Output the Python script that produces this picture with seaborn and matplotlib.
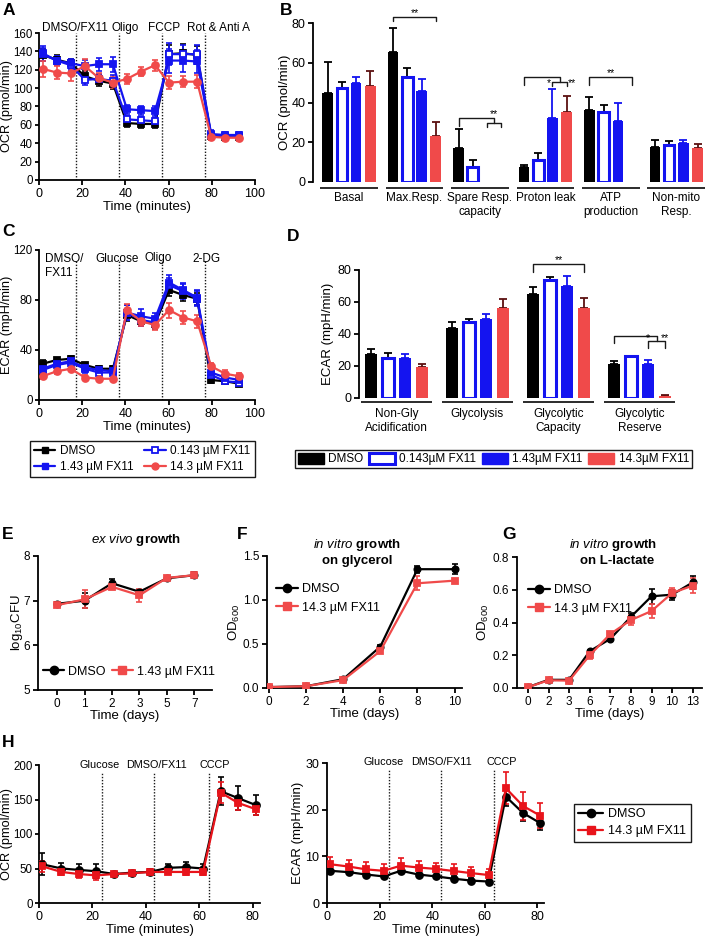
import matplotlib
matplotlib.use("Agg")
import matplotlib.pyplot as plt
import numpy as np
import pandas as pd
import seaborn as sns
from matplotlib.lines import Line2D
from matplotlib.patches import Patch

# ---------------- data ----------------
treats = ["DMSO", "0.143 µM FX11", "1.43 µM FX11", "14.3 µM FX11"]

# Panel A : OCR time course
time_A = [1.7, 8.2, 14.7, 21.2, 27.7, 34.2, 40.7, 47.2, 53.7, 60.2, 66.7, 73.2, 79.7, 86.2, 92.7]
A_dmso = [136, 131, 127, 113, 108, 105, 62, 61, 61, 137, 138, 136, 48, 47, 47]
A_f0143 = [137, 130, 125, 109, 110, 108, 66, 65, 64, 137, 137, 137, 50, 49, 49]
A_f143 = [138, 130, 127, 124, 126, 126, 77, 76, 75, 130, 130, 129, 49, 48, 48]
A_f143h = [121, 117, 116, 124, 111, 106, 110, 118, 125, 106, 107, 107, 47, 46, 46]
A_err_dmso = [7, 5, 5, 6, 6, 6, 4, 4, 4, 10, 10, 10, 4, 3, 3]
A_err_f0143 = [7, 5, 5, 6, 5, 6, 4, 4, 4, 12, 10, 10, 4, 3, 3]
A_err_f143 = [8, 5, 5, 7, 7, 8, 5, 5, 5, 13, 12, 13, 4, 3, 3]
A_err_f143h = [9, 7, 8, 8, 6, 6, 5, 5, 6, 7, 6, 7, 4, 4, 4]
inject_A = [17, 37, 57, 77]
inject_labels_A = ["DMSO/FX11", "Oligo", "FCCP", "Rot & Anti A"]

# Panel B : OCR parameters
groups_B = ["Basal", "Max.Resp.", "Spare Resp.\ncapacity", "Proton leak", "ATP\nproduction", "Non-mito\nResp."]
B_dmso = [45, 65.5, 17, 7.5, 36, 17.5]
B_f0143 = [47.5, 53, 7.5, 11, 35, 18.5]
B_f143 = [50, 46, 0, 32, 30.5, 19.5]
B_f143h = [48.5, 23, 0, 35, 0, 17]
B_err_dmso = [15.5, 12, 9.5, 1, 7, 3.5]
B_err_f0143 = [3, 4.5, 3.5, 3.5, 3.5, 2]
B_err_f143 = [3, 6, 0, 15, 9, 1.5]
B_err_f143h = [7.5, 7, 0, 8.5, 0, 2]

# Panel C : ECAR time course
time_C = time_A
C_dmso = [29, 32, 33, 28, 25, 25, 68, 63, 61, 88, 84, 81, 16, 15, 13]
C_f0143 = [24, 28, 30, 25, 22, 22, 70, 64, 62, 92, 87, 81, 20, 15, 14]
C_f143 = [25, 29, 31, 26, 24, 23, 70, 67, 65, 94, 88, 82, 22, 18, 16]
C_f143h = [19, 23, 25, 18, 17, 17, 72, 63, 60, 72, 66, 63, 27, 21, 19]
C_err_dmso = [3, 2, 2, 2, 2, 2, 5, 4, 4, 5, 5, 5, 2, 2, 2]
C_err_f0143 = [3, 3, 3, 3, 3, 3, 6, 5, 4, 6, 6, 6, 2, 2, 2]
C_err_f143 = [3, 3, 3, 3, 3, 3, 6, 6, 5, 6, 6, 6, 3, 4, 3]
C_err_f143h = [2, 2, 2, 2, 2, 2, 5, 4, 4, 6, 5, 5, 3, 3, 3]
inject_C = [17, 37, 57, 77]

# Panel D : glycolysis parameters
groups_D = ["Non-Gly\nAcidification", "Glycolysis", "Glycolytic\nCapacity", "Glycolytic\nReserve"]
D_dmso = [27.5, 43.5, 65, 21.5]
D_f0143 = [25, 47.5, 74, 26]
D_f143 = [25, 49.5, 70, 21]
D_f143h = [19.5, 56, 56.5, 1]
D_err_dmso = [3, 4, 4.5, 1.5]
D_err_f0143 = [3, 2, 1.5, 0.5]
D_err_f143 = [2.5, 3, 6, 3]
D_err_f143h = [1.5, 6, 6, 0.8]

# Panel E : ex vivo growth
days_E = ["0", "1", "2", "3", "5", "7"]
E_dmso = [6.93, 7.00, 7.39, 7.20, 7.50, 7.57]
E_dmso_err = [0.03, 0.17, 0.09, 0.05, 0.04, 0.07]
E_fx = [6.90, 7.03, 7.31, 7.12, 7.51, 7.57]
E_fx_err = [0.03, 0.2, 0.05, 0.15, 0.05, 0.04]

# Panel F : in vitro growth on glycerol
days_F = [0, 2, 4, 6, 8, 10]
F_dmso = [0.01, 0.02, 0.10, 0.47, 1.35, 1.35]
F_dmso_err = [0.005, 0.005, 0.01, 0.02, 0.04, 0.06]
F_fx = [0.01, 0.02, 0.09, 0.42, 1.19, 1.22]
F_fx_err = [0.005, 0.005, 0.01, 0.02, 0.08, 0.02]

# Panel G : in vitro growth on L-lactate
days_G = ["0", "2", "3", "6", "7", "8", "9", "10", "13"]
G_dmso = [0.005, 0.05, 0.05, 0.225, 0.30, 0.435, 0.56, 0.57, 0.645]
G_dmso_err = [0.005, 0.005, 0.005, 0.01, 0.01, 0.025, 0.045, 0.03, 0.04]
G_fx = [0.005, 0.047, 0.045, 0.20, 0.33, 0.415, 0.47, 0.58, 0.625]
G_fx_err = [0.005, 0.005, 0.005, 0.02, 0.015, 0.03, 0.04, 0.03, 0.045]

# Panel H : OCR / ECAR
time_H = [1.3, 8.4, 14.9, 21.5, 28.1, 34.8, 41.4, 48.3, 54.9, 61.4, 68.0, 74.5, 81.1]
H_ocr_dmso = [56, 50, 48, 46, 42, 44, 45, 51, 52, 50, 162, 152, 142]
H_ocr_dmso_err = [16, 8, 9, 10, 3, 3, 4, 6, 7, 6, 20, 17, 14]
H_ocr_fx = [53, 45, 42, 40, 42, 43, 45, 45, 45, 45, 160, 145, 136]
H_ocr_fx_err = [8, 5, 6, 6, 3, 3, 3, 3, 4, 4, 15, 10, 8]
H_ecar_dmso = [6.9, 6.6, 6.1, 5.7, 6.9, 6.1, 5.7, 5.2, 4.8, 4.6, 22.8, 19.3, 17.1]
H_ecar_dmso_err = [0.3, 0.3, 0.3, 0.3, 0.3, 0.3, 0.3, 0.5, 0.5, 0.3, 2.0, 1.8, 1.5]
H_ecar_fx = [8.3, 7.8, 7.2, 6.9, 8.0, 7.6, 7.3, 6.85, 6.4, 6.0, 24.6, 20.8, 18.7]
H_ecar_fx_err = [1.6, 1.4, 1.5, 1.4, 1.6, 1.4, 1.3, 1.5, 1.4, 1.3, 3.4, 3.0, 2.7]
inject_H = [23.5, 43.2, 63.5]
inject_labels_H = ["Glucose", "DMSO/FX11", "CCCP"]

# ---------------- style ----------------
sns.set_theme(style="ticks")
plt.rcParams.update({
    'font.family': ['Liberation Sans', 'DejaVu Sans'],
    'mathtext.fontset': 'custom',
    'mathtext.rm': 'Liberation Sans',
    'mathtext.it': 'Liberation Sans:italic',
    'mathtext.bf': 'Liberation Sans:bold',
    'axes.linewidth': 1.3,
    'xtick.major.width': 1.3, 'ytick.major.width': 1.3,
    'xtick.major.size': 3.5, 'ytick.major.size': 3.5,
    'xtick.labelsize': 9, 'ytick.labelsize': 9,
    'axes.labelsize': 9.5,
    'xtick.major.pad': 2, 'ytick.major.pad': 2,
    'axes.edgecolor': 'black', 'xtick.color': 'black', 'ytick.color': 'black',
    'text.color': 'black', 'axes.labelcolor': 'black',
})

W, H = 711, 944
fig = plt.figure(figsize=(W / 100, H / 100), dpi=100)

BLACK = '#000000'
BLUE = '#1414F0'
RED = '#F04A4A'
RED_H = '#E8141B'
DKRED = '#5c1010'


def add_ax(x0, y0, x1, y1):
    ax = fig.add_axes([x0 / W, 1 - y1 / H, (x1 - x0) / W, (y1 - y0) / H])
    sns.despine(ax=ax)
    return ax


def ylab(ax, text, xfrac, size=9.5):
    ax.set_ylabel(text, fontsize=size)
    ax.yaxis.set_label_coords(xfrac, 0.5)


def tight_y(ax):
    ax.tick_params(axis='y', labelsize=8.3, pad=1.5, length=3)


def series(ax, x, y, err, color, marker, mfc=None, ms=5, lw=1.6, cap=2.5):
    sns.lineplot(x=x, y=y, ax=ax, color=color, marker=marker, markersize=ms,
                 markerfacecolor=mfc if mfc else color, markeredgecolor=color,
                 markeredgewidth=1.3, linewidth=lw, errorbar=None, zorder=3)
    ax.errorbar(x, y, yerr=err, fmt='none', ecolor=color, elinewidth=1.2,
                capsize=cap, capthick=1.2, zorder=2.9)


def letter(x, y, s):
    fig.text(x / W, 1 - y / H, s, fontsize=12.5, fontweight='bold', va='top', ha='left')


def long_df(groups, vals_list):
    rows = []
    for t, vals in zip(treats, vals_list):
        for g, v in zip(groups, vals):
            rows.append((g, t, v))
    return pd.DataFrame(rows, columns=['group', 'treat', 'value'])


def bars(ax, groups, vals_list, errs_list, width, gap):
    df = long_df(groups, vals_list)
    sns.barplot(data=df, x='group', y='value', hue='treat', order=groups, hue_order=treats,
                palette=[BLACK, BLUE, BLUE, RED], saturation=1, width=width, gap=gap,
                errorbar=None, legend=False, ax=ax, zorder=2, linewidth=0)
    for bar in ax.containers[1]:
        bar.set_facecolor('white')
        bar.set_edgecolor(BLUE)
        bar.set_linewidth(2.2)
    for cont, e, c in zip(ax.containers, errs_list, [BLACK, BLACK, BLUE, DKRED]):
        xs = np.array([b.get_x() + b.get_width() / 2 for b in cont])
        hs = np.array([b.get_height() for b in cont])
        e = np.array(e, float)
        m = e > 0
        ax.errorbar(xs[m], hs[m], yerr=[np.zeros(m.sum()), e[m]], fmt='none', ecolor=c,
                    elinewidth=1.3, capsize=3, capthick=1.3, zorder=1.9)
    ax.spines['bottom'].set_visible(False)
    ax.tick_params(axis='x', length=0, pad=7, labelsize=8.5)
    ax.set_xlabel('')
    for i in range(len(groups)):
        ax.plot([i - 0.44, i + 0.44], [-0.035, -0.035], transform=ax.get_xaxis_transform(),
                color='k', lw=1.3, clip_on=False, solid_capstyle='butt')


def xc(ax, hue_i, grp_i):
    b = ax.containers[hue_i][grp_i]
    return b.get_x() + b.get_width() / 2


def bracket(ax, x1, x2, y, d1, d2):
    ax.plot([x1, x1, x2, x2], [y - d1, y, y, y - d2], color='k', lw=1, clip_on=False)


def star(ax, x, y, s, ha='center', va='bottom'):
    ax.text(x, y, s, ha=ha, va=va, fontsize=7.5, clip_on=False)


# ---------------- Panel A ----------------
axA = add_ax(39, 33, 255, 180)
for y, e, c, m, mfc in [(A_dmso, A_err_dmso, BLACK, 's', BLACK),
                        (A_f0143, A_err_f0143, BLUE, 's', 'white'),
                        (A_f143, A_err_f143, BLUE, 's', BLUE),
                        (A_f143h, A_err_f143h, RED, 'o', RED)]:
    series(axA, time_A, y, e, c, m, mfc)
axA.set_xlim(0, 100)
axA.set_ylim(0, 160)
axA.set_xticks(range(0, 101, 20))
axA.set_yticks(range(0, 161, 20))
tight_y(axA)
axA.set_xlabel('Time (minutes)', labelpad=1)
ylab(axA, 'OCR (pmol/min)', -0.12, 9.2)
for x in inject_A:
    axA.vlines(x, 0, 160, colors='k', linestyles=(0, (1, 1.2)), lw=1, zorder=1)
for x, t in zip([16.5, 40, 58, 83], inject_labels_A):
    axA.text(x, 162, t, ha='center', va='baseline', fontsize=8.5, clip_on=False)
letter(3, 3, 'A')

# ---------------- Panel B ----------------
axB = add_ax(313, 23, 709, 182)
bars(axB, groups_B, [B_dmso, B_f0143, B_f143, B_f143h],
     [B_err_dmso, B_err_f0143, B_err_f143, B_err_f143h], 0.87, 0.25)
axB.set_xlim(-0.55, 5.5)
axB.set_ylim(0, 80)
axB.set_yticks(range(0, 81, 20))
ylab(axB, 'OCR (pmol/min)', -0.056)
# significance
bracket(axB, xc(axB, 0, 1), xc(axB, 3, 1), 83, 1.8, 1.8)
star(axB, (xc(axB, 0, 1) + xc(axB, 3, 1)) / 2, 82.5, '**')
mid = (xc(axB, 2, 2) + xc(axB, 3, 2)) / 2
bracket(axB, xc(axB, 0, 2), mid, 32, 4, 2.2)
bracket(axB, xc(axB, 2, 2), xc(axB, 3, 2), 29.8, 2, 2)
star(axB, mid, 31.5, '**')
mid = (xc(axB, 2, 3) + xc(axB, 3, 3)) / 2
bracket(axB, xc(axB, 0, 3), mid, 52.7, 4, 2.2)
bracket(axB, xc(axB, 2, 3), xc(axB, 3, 3), 50.5, 2.2, 2.2)
star(axB, xc(axB, 2, 3) - 0.02, 47.5, '*', ha='right')
star(axB, xc(axB, 3, 3) + 0.02, 47.5, '**', ha='left')
bracket(axB, xc(axB, 0, 4), xc(axB, 3, 4), 52.7, 4, 4)
star(axB, (xc(axB, 0, 4) + xc(axB, 3, 4)) / 2, 52.3, '**')
letter(280, 3, 'B')

# ---------------- Panel C ----------------
axC = add_ax(39, 250, 255, 400)
for y, e, c, m, mfc in [(C_dmso, C_err_dmso, BLACK, 's', BLACK),
                        (C_f0143, C_err_f0143, BLUE, 's', 'white'),
                        (C_f143, C_err_f143, BLUE, 's', BLUE),
                        (C_f143h, C_err_f143h, RED, 'o', RED)]:
    series(axC, time_C, y, e, c, m, mfc)
axC.set_xlim(0, 100)
axC.set_ylim(0, 120)
axC.set_xticks(range(0, 101, 20))
axC.set_yticks(range(0, 121, 40))
tight_y(axC)
axC.set_xlabel('Time (minutes)', labelpad=1)
ylab(axC, 'ECAR (mpH/min)', -0.12, 9.2)
for x in inject_C:
    axC.vlines(x, 0, 112, colors='k', linestyles=(0, (1, 1.2)), lw=1, zorder=1)
axC.text(3, 118, 'DMSO/\nFX11', ha='left', va='top', fontsize=8.5, linespacing=1.3)
axC.text(36, 118, 'Glucose', ha='center', va='top', fontsize=8.5)
axC.text(55, 118, 'Oligo', ha='center', va='top', fontsize=8.5)
axC.text(77.5, 118, '2-DG', ha='center', va='top', fontsize=8.5)
letter(2, 224, 'C')

hC = [Line2D([], [], color=BLACK, marker='s', ms=5, lw=1.6),
      Line2D([], [], color=BLUE, marker='s', ms=5, lw=1.6, markerfacecolor='white', markeredgewidth=1.3),
      Line2D([], [], color=BLUE, marker='s', ms=5, lw=1.6),
      Line2D([], [], color=RED, marker='o', ms=5, lw=1.6)]
order = [0, 2, 1, 3]
legC = fig.legend(
    handles=[hC[i] for i in order], labels=[treats[i] for i in order], ncol=2,
    loc='upper left', bbox_to_anchor=(30 / W, 1 - 441 / H), borderaxespad=0,
    frameon=True, fancybox=False, edgecolor='k', framealpha=1, fontsize=8.5,
    handlelength=1.8, columnspacing=0.9, borderpad=0.35, labelspacing=0.35, handletextpad=0.4)
legC.get_frame().set_linewidth(1.0)

# ---------------- Panel D ----------------
axD = add_ax(359, 270, 676, 398)
bars(axD, groups_D, [D_dmso, D_f0143, D_f143, D_f143h],
     [D_err_dmso, D_err_f0143, D_err_f143, D_err_f143h], 0.84, 0.29)
axD.set_xlim(-0.46, 3.45)
axD.set_ylim(0, 80)
axD.set_yticks(range(0, 81, 20))
ylab(axD, 'ECAR (mpH/min)', -0.079)
bracket(axD, xc(axD, 0, 2), xc(axD, 3, 2), 83.5, 4.5, 4.5)
star(axD, (xc(axD, 0, 2) + xc(axD, 3, 2)) / 2, 83, '**')
mid = (xc(axD, 2, 3) + xc(axD, 3, 3)) / 2
bracket(axD, xc(axD, 0, 3), mid, 38.8, 4.5, 3.3)
bracket(axD, xc(axD, 2, 3), xc(axD, 3, 3), 35.5, 4.5, 4.5)
star(axD, xc(axD, 2, 3), 34.5, '*')
star(axD, xc(axD, 3, 3), 34.5, '**')
letter(287, 229, 'D')

legD = fig.legend(
    handles=[Patch(facecolor=BLACK, edgecolor=BLACK),
             Patch(facecolor='white', edgecolor=BLUE, linewidth=2.2),
             Patch(facecolor=BLUE, edgecolor=BLUE),
             Patch(facecolor=RED, edgecolor=RED)],
    labels=["DMSO", "0.143µM FX11", "1.43µM FX11", "14.3µM FX11"], ncol=4,
    loc='upper left', bbox_to_anchor=(295 / W, 1 - 450 / H), borderaxespad=0,
    frameon=True, fancybox=False, edgecolor='k', framealpha=1, fontsize=8.5,
    handlelength=2.2, handleheight=1.0, columnspacing=0.5, borderpad=0.25, handletextpad=0.35)
legD.get_frame().set_linewidth(1.0)

# ---------------- Panel E ----------------
axE = add_ax(38, 556, 212, 690)
xE = list(range(len(days_E)))
series(axE, xE, E_dmso, E_dmso_err, BLACK, 'o', ms=4.5, cap=2)
series(axE, xE, E_fx, E_fx_err, RED, 's', ms=4.5, cap=2)
axE.set_xticks(xE)
axE.set_xticklabels(days_E)
axE.set_xlim(-0.7, 5.65)
axE.set_ylim(5, 8)
axE.set_yticks([5, 6, 7, 8])
axE.tick_params(labelsize=8.5)
axE.set_xlabel('Time (days)', labelpad=0)
ylab(axE, 'log$_{10}$CFU', -0.075)
fig.text(136 / W, 1 - 540 / H, r'$\it{ex\ vivo}$ $\bf{growth}$', ha='center', va='center', fontsize=9.5)
axE.legend(handles=[Line2D([], [], color=BLACK, marker='o', ms=6, lw=1.6),
                    Line2D([], [], color=RED, marker='s', ms=6, lw=1.6)],
           labels=["DMSO", "1.43 µM FX11"], ncol=2, loc='upper left',
           bbox_to_anchor=(0.0, 0.22), frameon=False, fontsize=9,
           handlelength=1.7, columnspacing=0.5, handletextpad=0.3, borderaxespad=0)
letter(2, 527, 'E')

# ---------------- Panel F ----------------
axF = add_ax(267, 556, 462, 688)
series(axF, days_F, F_dmso, F_dmso_err, BLACK, 'o', ms=4.5, cap=2)
series(axF, days_F, F_fx, F_fx_err, RED, 's', ms=4.5, cap=2)
axF.set_xlim(-0.1, 10.4)
axF.set_ylim(0, 1.5)
axF.set_xticks(days_F)
axF.set_yticks([0, 0.5, 1.0, 1.5])
axF.set_yticklabels(['0.0', '0.5', '1.0', '1.5'])
axF.tick_params(labelsize=8.5)
axF.set_xlabel('Time (days)', labelpad=0)
ylab(axF, 'OD$_{600}$', -0.13)
fig.text(357 / W, 1 - 545 / H, r'$\it{in\ vitro}$ $\bf{growth}$', ha='center', va='center', fontsize=9.5)
fig.text(357 / W, 1 - 561 / H, 'on glycerol', ha='center', va='center', fontsize=9.5, fontweight='bold')
axF.legend(handles=[Line2D([], [], color=BLACK, marker='o', ms=6, lw=1.6),
                    Line2D([], [], color=RED, marker='s', ms=6, lw=1.6)],
           labels=["DMSO", "14.3 µM FX11"], loc='upper left',
           bbox_to_anchor=(0.02, 0.83), frameon=False, fontsize=9,
           handlelength=1.8, handletextpad=0.3, labelspacing=0.5, borderaxespad=0)
letter(237, 527, 'F')

# ---------------- Panel G ----------------
axG = add_ax(517, 557, 702, 688)
xG = list(range(len(days_G)))
series(axG, xG, G_dmso, G_dmso_err, BLACK, 'o', ms=4.5, cap=2)
series(axG, xG, G_fx, G_fx_err, RED, 's', ms=4.5, cap=2)
axG.set_xticks(xG)
axG.set_xticklabels(days_G)
axG.set_xlim(-0.53, 8.45)
axG.set_ylim(0, 0.8)
axG.set_yticks([0, 0.2, 0.4, 0.6, 0.8])
axG.set_yticklabels(['0.0', '0.2', '0.4', '0.6', '0.8'])
axG.tick_params(labelsize=8.5)
axG.set_xlabel('Time (days)', labelpad=0)
ylab(axG, 'OD$_{600}$', -0.14)
fig.text(613 / W, 1 - 545 / H, r'$\it{in\ vitro}$ $\bf{growth}$', ha='center', va='center', fontsize=9.5)
fig.text(617 / W, 1 - 561 / H, 'on L-lactate', ha='center', va='center', fontsize=9.5, fontweight='bold')
axG.legend(handles=[Line2D([], [], color=BLACK, marker='o', ms=6, lw=1.6),
                    Line2D([], [], color=RED, marker='s', ms=6, lw=1.6)],
           labels=["DMSO", "14.3 µM FX11"], loc='upper left',
           bbox_to_anchor=(0.03, 0.83), frameon=False, fontsize=9,
           handlelength=1.8, handletextpad=0.3, labelspacing=0.5, borderaxespad=0)
letter(502, 527, 'G')

# ---------------- Panel H ----------------
axH1 = add_ax(39, 765, 260, 903)
series(axH1, time_H, H_ocr_dmso, H_ocr_dmso_err, BLACK, 'o', ms=5, cap=2.5)
series(axH1, time_H, H_ocr_fx, H_ocr_fx_err, RED_H, 's', ms=5, cap=2.5)
axH1.set_xlim(0, 82.7)
axH1.set_ylim(0, 200)
axH1.set_xticks(range(0, 81, 20))
axH1.set_yticks(range(0, 201, 50))
tight_y(axH1)
axH1.set_xlabel('Time (minutes)', labelpad=1)
ylab(axH1, 'OCR (pmol/min)', -0.118, 9.2)
for x in inject_H:
    axH1.vlines(x, 0, 190, colors='k', linestyles=(0, (1, 1.2)), lw=1, zorder=1)
for x, t in zip([22.5, 44, 65.8], inject_labels_H):
    axH1.text(x, 200, t, ha='center', va='center', fontsize=7.8, clip_on=False)
letter(2, 735, 'H')

axH2 = add_ax(327, 763, 544, 903)
series(axH2, time_H, H_ecar_dmso, H_ecar_dmso_err, BLACK, 'o', ms=5, cap=2.5)
series(axH2, time_H, H_ecar_fx, H_ecar_fx_err, RED_H, 's', ms=5, cap=2.5)
axH2.set_xlim(0, 82.5)
axH2.set_ylim(0, 30)
axH2.set_xticks(range(0, 81, 20))
axH2.set_yticks([0, 10, 20, 30])
axH2.set_xlabel('Time (minutes)', labelpad=1)
ylab(axH2, 'ECAR (mpH/min)', -0.106)
for x in inject_H:
    axH2.vlines(x, 0, 28.5, colors='k', linestyles=(0, (1, 1.2)), lw=1, zorder=1)
for x, t in zip([21.7, 43.7, 66.5], inject_labels_H):
    axH2.text(x, 30.2, t, ha='center', va='center', fontsize=7.8, clip_on=False)

legH = fig.legend(
    handles=[Line2D([], [], color=BLACK, marker='o', ms=6, lw=1.6),
             Line2D([], [], color=RED_H, marker='s', ms=6, lw=1.6)],
    labels=["DMSO", "14.3 µM FX11"], loc='upper left', bbox_to_anchor=(574 / W, 1 - 804 / H),
    borderaxespad=0, frameon=True, fancybox=False, edgecolor='k', framealpha=1, fontsize=9,
    handlelength=2.0, borderpad=0.35, labelspacing=0.4, handletextpad=0.4)
legH.get_frame().set_linewidth(1.0)

fig.savefig('out.png', dpi=100)
